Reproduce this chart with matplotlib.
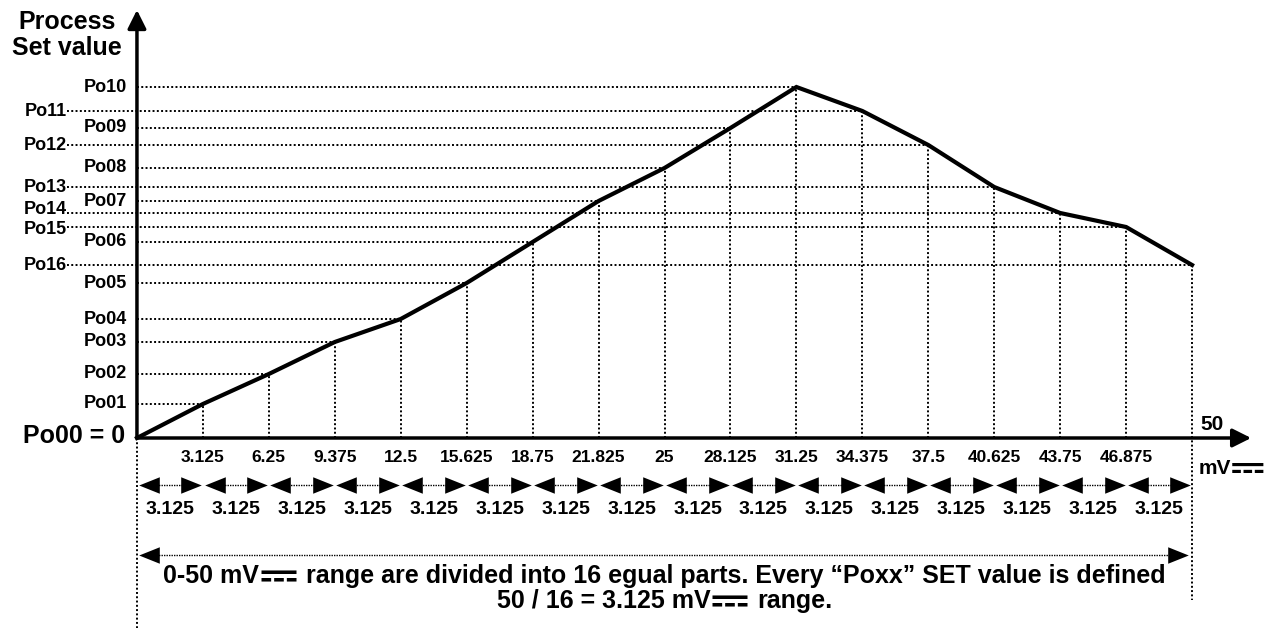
import numpy as np
import matplotlib
matplotlib.use("Agg")
import matplotlib.pyplot as plt
from matplotlib.path import Path

# Noto Sans Symbols carries the DC sign
plt.rcParams['font.family'] = ['Liberation Sans', 'Noto Sans Symbols', 'DejaVu Sans']
plt.rcParams['font.weight'] = 'bold'

# input steps in mV (0-50 split in 16 parts)
mv_steps = [0, 3.125, 6.25, 9.375, 12.5, 15.625, 18.75, 21.875, 25,
            28.125, 31.25, 34.375, 37.5, 40.625, 43.75, 46.875, 50]
tick_labels = ["3.125", "6.25", "9.375", "12.5", "15.625", "18.75", "21.825",
               "25", "28.125", "31.25", "34.375", "37.5", "40.625", "43.75", "46.875"]
part_label = "3.125"

# process set values for each step (arbitrary units)
point_names = ["Po00", "Po01", "Po02", "Po03", "Po04", "Po05", "Po06", "Po07", "Po08",
               "Po09", "Po10", "Po11", "Po12", "Po13", "Po14", "Po15", "Po16"]
set_values = [0, 34, 64, 96, 119, 155, 196, 237, 270,
              310, 351, 327, 293, 251, 225, 211, 173]

DC = "\u2393"

fig = plt.figure(figsize=(12.79, 6.28), dpi=100)
ax = fig.add_axes([0, 0, 1, 1])
ax.set_xlim(-6.49, 54.12)
ax.set_ylim(-190, 438)
ax.axis('off')
renderer = fig.canvas.get_renderer()


def inline_text(x, y, pieces, ha='center'):
    """Write pieces (text, size, dy, gap_before) one after the other on a common baseline."""
    widths = []
    for s, size, dy, gap in pieces:
        t = ax.text(0, 0, s, fontsize=size)
        widths.append(t.get_window_extent(renderer).width + gap)
        t.remove()
    total = sum(widths)
    off = -total / 2 if ha == 'center' else 0
    for (s, size, dy, gap), w in zip(pieces, widths):
        ax.annotate(s, (x, y), xytext=((off + gap) * 72 / fig.dpi, dy), textcoords='offset points',
                    fontsize=size, ha='left', va='baseline')
        off += w


dot = dict(color='black', linestyle=(0, (1, 1.2)), linewidth=1.4)

# small shifts so the stacked left labels do not collide
label_shift = {14: 4, 15: -2}

# guide lines from the labels / axis to each point and down to the x axis
for i, (x, v) in enumerate(zip(mv_steps, set_values)):
    if i == 0:
        continue
    ty = v + label_shift.get(i, 0)
    if i <= 10:
        ax.plot([0, x], [v, v], **dot)
        ax.text(-0.45, ty, point_names[i], ha='right', va='center', fontsize=13)
    else:
        ax.plot([-3.3, x], [v, v], **dot)
        ax.text(-3.3, ty, point_names[i], ha='right', va='center', fontsize=13)
    if i < 16:
        ax.plot([x, x], [0, v], **dot)

# long guides at both ends of the range
ax.plot([0, 0], [0, -190], **dot)
ax.plot([50, 50], [set_values[-1], -162], **dot)

# the set value curve
ax.plot(mv_steps, set_values, color='black', linewidth=3, solid_joinstyle='miter', zorder=5)

# axes with arrow heads
ax.annotate('', xy=(0, 428), xytext=(0, 0),
            arrowprops=dict(arrowstyle='-|>', color='black', lw=2.5, mutation_scale=28, shrinkA=0, shrinkB=0))
ax.annotate('', xy=(52.8, 0), xytext=(0, 0),
            arrowprops=dict(arrowstyle='-|>', color='black', lw=2.5, mutation_scale=28, shrinkA=0, shrinkB=0))

ax.text(-3.32, 416, "Process", ha='center', va='center', fontsize=18)
ax.text(-3.32, 390, "Set value", ha='center', va='center', fontsize=18)
ax.text(-0.57, 2, "Po00 = 0", ha='right', va='center', fontsize=18)

ax.text(50.38, 14, "50", ha='left', va='center', fontsize=15)
inline_text(50.3, -36, [("mV", 15, 0, 0), (DC, 32, -8, -1)], ha='left')

# x tick values
for x, lab in zip(mv_steps[1:-1], tick_labels):
    ax.text(x, -19, lab, ha='center', va='center', fontsize=12.5)

# one double arrow per part
left_head = Path([(-1, 0), (1, 0.8), (1, -0.8), (-1, 0)],
                 [Path.MOVETO, Path.LINETO, Path.LINETO, Path.CLOSEPOLY])
right_head = Path([(1, 0), (-1, 0.8), (-1, -0.8), (1, 0)],
                  [Path.MOVETO, Path.LINETO, Path.LINETO, Path.CLOSEPOLY])
for a, b in zip(mv_steps[:-1], mv_steps[1:]):
    ax.plot([a + 0.9, b - 0.9], [-47, -47], color='black', linestyle=(0, (1, 0.8)), linewidth=1.0)
    ax.scatter([a + 0.55], [-47], marker=left_head, s=220, color='black', linewidths=0, zorder=6)
    ax.scatter([b - 0.55], [-47], marker=right_head, s=220, color='black', linewidths=0, zorder=6)
    ax.text((a + b) / 2, -71, part_label, ha='center', va='center', fontsize=14)

# full range arrow
ax.plot([0.9, 49.0], [-117, -117], color='black', linestyle=(0, (1, 0.8)), linewidth=1.0)
ax.scatter([0.55], [-117], marker=left_head, s=220, color='black', linewidths=0, zorder=6)
ax.scatter([49.35], [-117], marker=right_head, s=220, color='black', linewidths=0, zorder=6)

inline_text(25, -145, [("0-50 mV", 18, 0, 0), (DC, 36, -9, -1),
                       ("range are divided into 16 egual parts. Every \u201cPoxx\u201d SET value is defined", 18, 0, 8)])
inline_text(25, -170, [("50 / 16 = 3.125 mV", 18, 0, 0), (DC, 36, -9, -1), ("range.", 18, 0, 8)])

fig.savefig("out.png", dpi=100)
